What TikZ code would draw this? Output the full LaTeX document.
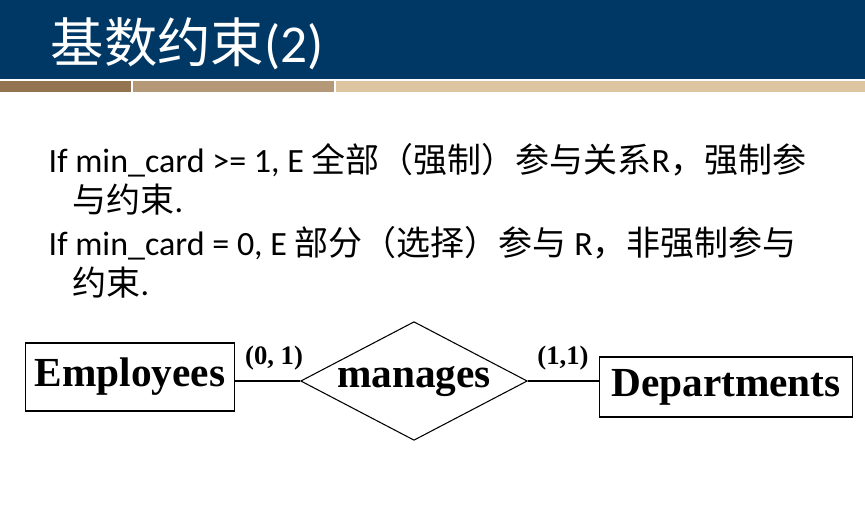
\documentclass[tikz,border=0pt]{standalone}
\usepackage{fontspec}
\setmainfont{Carlito}
\newfontfamily\cjk{Noto Sans CJK SC}
\newfontfamily\timesbf[BoldFont={Liberation Serif Bold}]{Liberation Serif}
\usetikzlibrary{shapes.geometric}
\definecolor{headblue}{RGB}{0,56,101}
\definecolor{stripA}{RGB}{148,115,80}
\definecolor{stripB}{RGB}{180,152,120}
\definecolor{stripC}{RGB}{222,197,162}
\tikzset{
entity/.style={draw, thick, inner sep=0pt, font=\timesbf\bfseries\fontsize{31}{33}\selectfont},
relation/.style={diamond, draw, thick, aspect=1.9, inner sep=0pt, minimum width=170pt, minimum height=89pt, font=\timesbf\bfseries\fontsize{31}{33}\selectfont},
card/.style={font=\timesbf\bfseries\fontsize{20}{22}\selectfont},
body/.style={anchor=base west, align=left, font=\fontsize{25.5}{29.5}\selectfont},
}
\begin{document}
\begin{tikzpicture}[x=0.75pt,y=-0.75pt]
\useasboundingbox (0,0) rectangle (865,522);
% header
\fill[headblue] (0,0) rectangle (865,79);
\fill[stripA] (0,81) rectangle (131,92);
\fill[stripB] (133,81) rectangle (334,92);
\fill[stripC] (336,81) rectangle (865,92);
\node[anchor=west, text=white, font=\fontsize{40}{44}\selectfont] (title) at (46,44) {{\cjk 基数约束}(2)};
% text
\node[body] (line1) at (44,212) {If min\_card >= 1, E {\cjk 全部（强制）参与关系}R{\cjk ，强制参}\\\hspace{0.7em}{\cjk 与约束}.};
\node[body] (line2) at (44,295) {If min\_card = 0, E {\cjk 部分（选择）参与} R{\cjk ，非强制参与}\\\hspace{0.7em}{\cjk 约束}.};
% diagram
\node[entity, minimum width=157pt, minimum height=51pt] (emp) at (130,377) {Employees};
\node[relation] (man) at (414,381) {manages};
\node[entity, minimum width=190pt, minimum height=45pt] (dep) at (726,387) {Departments};
\draw[thick] (man.west -| emp.east) -- (man.west);
\draw[thick] (man.east) -- (man.east -| dep.west);
\node[card] (c1) at (274,358) {(0, 1)};
\node[card] (c2) at (563,358) {(1,1)};
\end{tikzpicture}
\end{document}
